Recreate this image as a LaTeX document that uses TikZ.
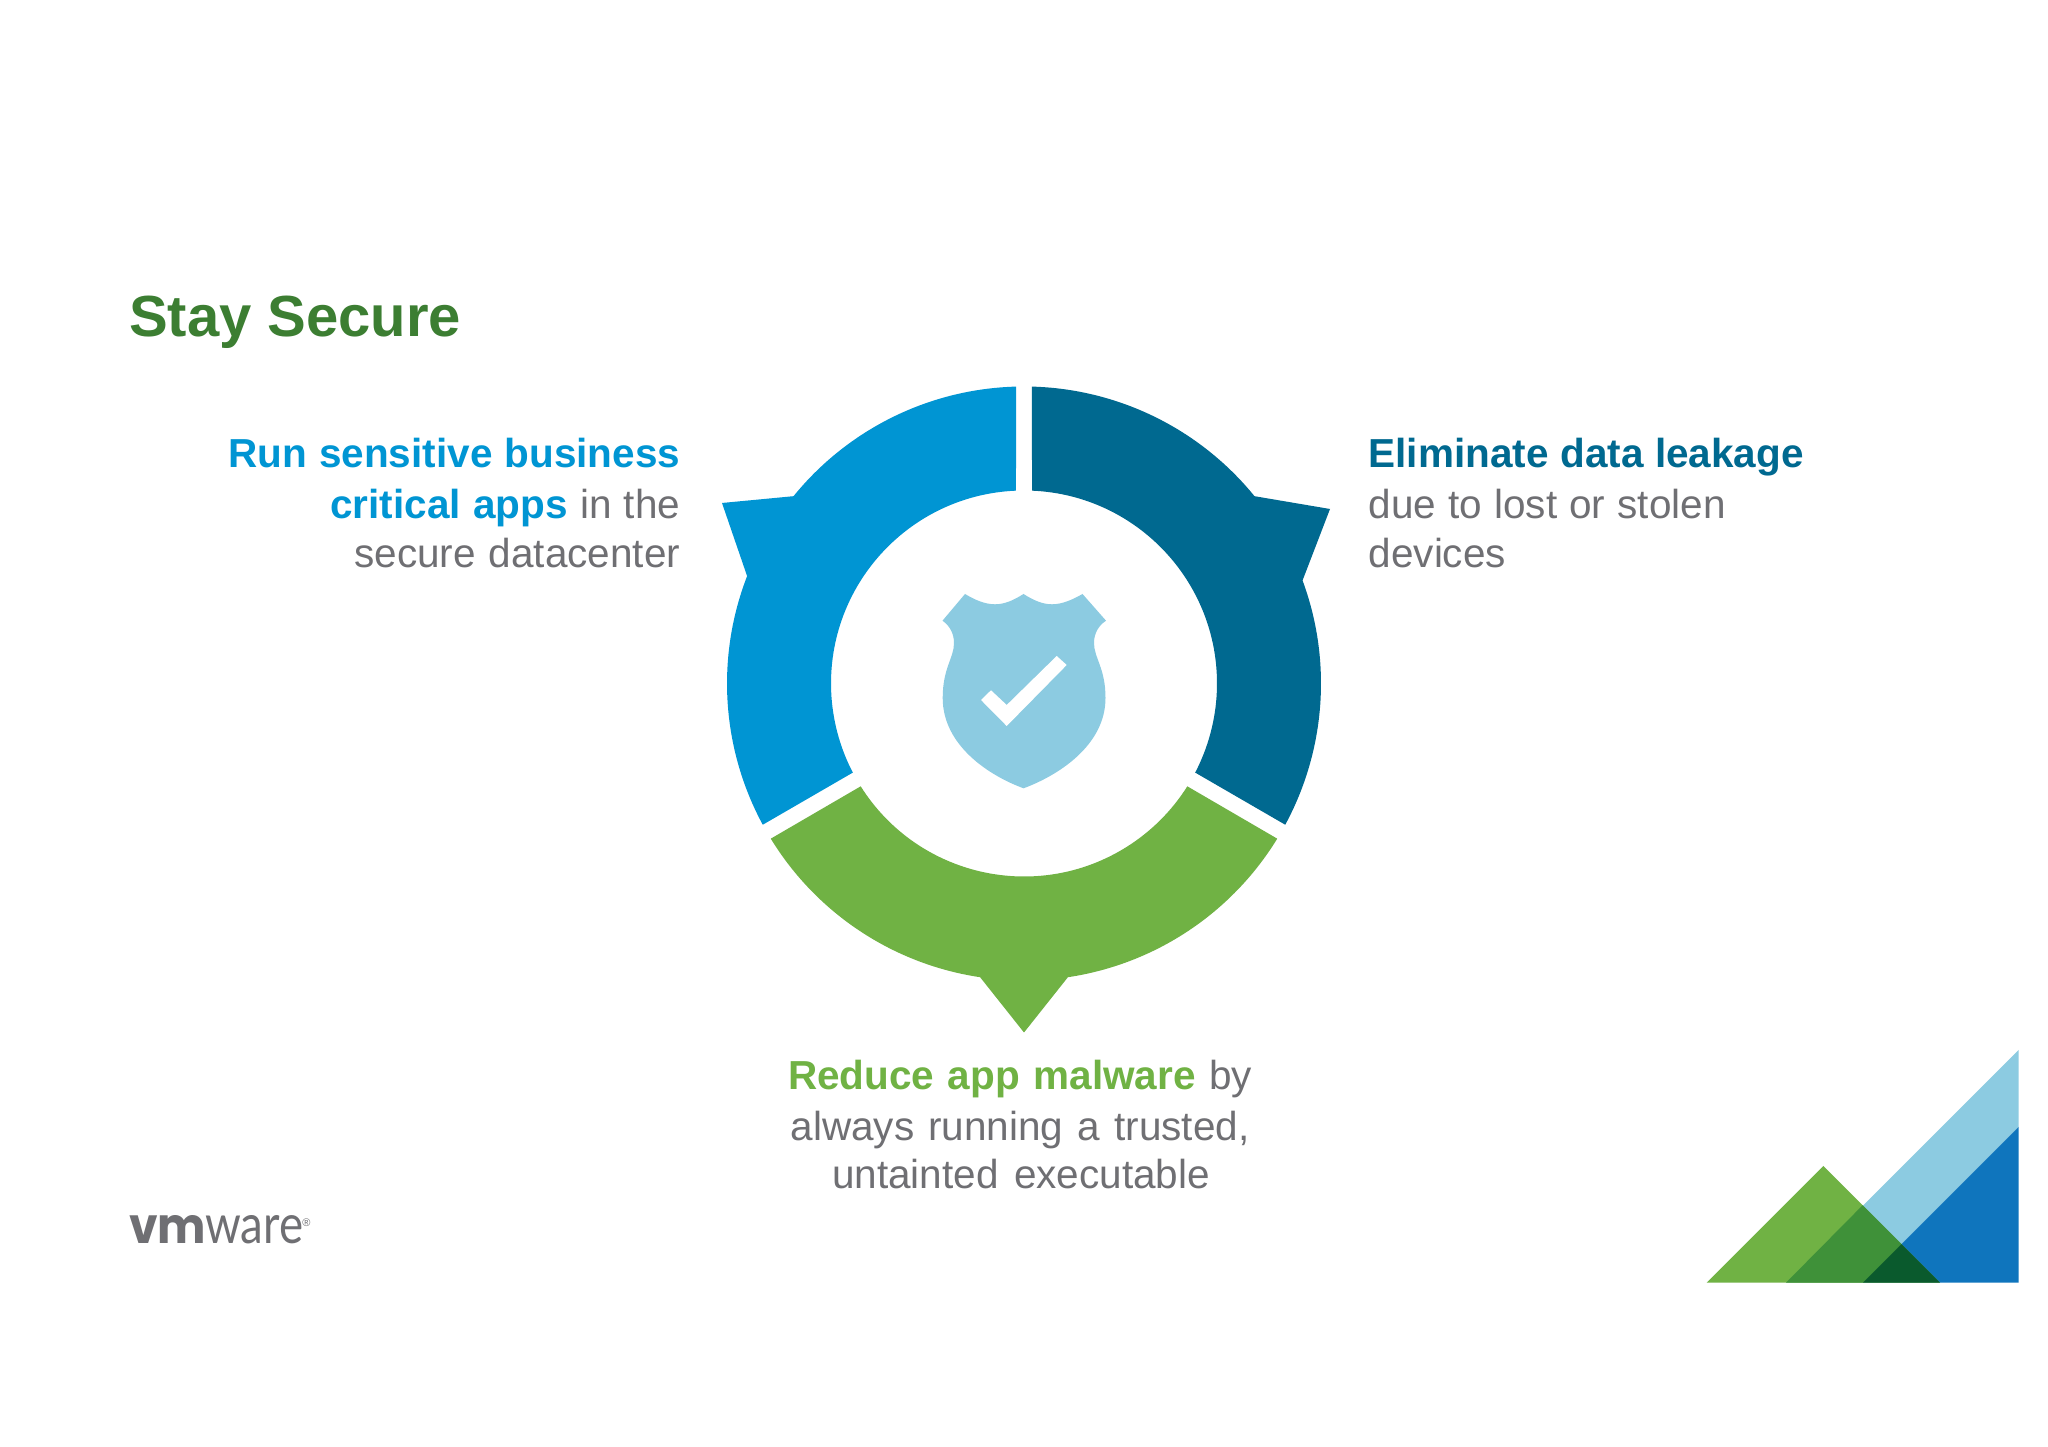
\documentclass[tikz,border=0pt]{standalone}
\usepackage{fontspec}
\usepackage{graphicx}
\setmainfont{Liberation Sans}
\newfontfamily\logofont{Poppins}
\newfontfamily\logolight{Lato}
\definecolor{segA}{HTML}{0095D3}
\definecolor{segB}{HTML}{006990}
\definecolor{segC}{HTML}{70B244}
\definecolor{titleC}{HTML}{3C7E32}
\definecolor{bodyC}{HTML}{6F6F73}
\definecolor{skyC}{HTML}{8CCBE1}
\definecolor{blueC}{HTML}{0F75BD}
\definecolor{midG}{HTML}{3F9139}
\definecolor{darkG}{HTML}{0A5A2D}
\tikzset{
  bodytext/.style={text=bodyC,font=\fontsize{40.5}{48}\selectfont,inner sep=0pt},
  lineE/.style={bodytext,anchor=base east},
  lineW/.style={bodytext,anchor=base west},
  lineC/.style={bodytext,anchor=base},
}
\newcommand{\fitline}[2]{\makebox[#1pt][s]{#2}}
\begin{document}
\begin{tikzpicture}[x=1pt,y=1pt]
\useasboundingbox (0,0) rectangle (2048,1447);
\fill[white] (0,0) rectangle (2048,1447);
% ring, centre (1024,763.5)
\begin{scope}[shift={(1024,763.5)}]
\fill[segA] (91.5:297) -- (92.4:193) arc[start angle=92.4,end angle=207.5,radius=193]
  -- (208.4:297) arc[start angle=208.4,end angle=158.8,radius=297]
  -- (-302,180.5) -- (140.9:297) arc[start angle=140.9,end angle=91.5,radius=297] -- cycle;
\fill[segB] (88.5:297) -- (87.6:193) arc[start angle=87.6,end angle=-27.5,radius=193]
  -- (-28.4:297) arc[start angle=-28.4,end angle=20.3,radius=297]
  -- (306,174.5) -- (39.1:297) arc[start angle=39.1,end angle=88.5,radius=297] -- cycle;
\fill[segC] (212.2:193) arc[start angle=212.2,end angle=327.8,radius=193]
  -- (-31.5:297) arc[start angle=-31.5,end angle=-81.5,radius=297]
  -- (0,-349) -- (261.5:297) arc[start angle=261.5,end angle=211.5,radius=297] -- cycle;
\end{scope}
% shield (coordinates measured with y downward)
\begin{scope}[yscale=-1,shift={(0,-1447)}]
\fill[skyC] (1023.5,594) .. controls (1014,600) and (1005,604.3) .. (995,604.3)
  .. controls (985,604.3) and (975,600) .. (965,594) -- (942.5,620.7)
  .. controls (950,626) and (954,634) .. (954,643)
  .. controls (954,658) and (942.7,668) .. (942.7,698)
  .. controls (942.7,746) and (990,776) .. (1023.5,788.3)
  .. controls (1057,776) and (1105.5,746) .. (1105.5,698)
  .. controls (1105.5,668) and (1094,658) .. (1094,643)
  .. controls (1094,634) and (1098,626) .. (1106,620.7)
  -- (1082.5,594) .. controls (1072,600) and (1062,604.3) .. (1052,604.3)
  .. controls (1042,604.3) and (1033,600) .. (1023.5,594) -- cycle;
\fill[white] (981,700) -- (991,690.3) -- (1006.7,705) -- (1056.7,656) -- (1066.7,665) -- (1006.7,726) -- cycle;
% corner mark
\fill[skyC] (2018.7,1050) -- (2018.7,1127) -- (1863,1282.7) -- (1786,1282.7) -- cycle;
\fill[blueC] (2018.7,1127) -- (2018.7,1282.7) -- (1863,1282.7) -- cycle;
\fill[segC] (1706.7,1282.7) -- (1823.3,1166) -- (1940,1282.7) -- cycle;
\fill[midG] (1786,1282.7) -- (1862.6,1205.3) -- (1901.5,1244.2) -- (1863,1282.7) -- cycle;
\fill[darkG] (1863,1282.7) -- (1901.5,1244.2) -- (1940,1282.7) -- cycle;
\end{scope}
% title
\node[anchor=base west,inner sep=0pt,text=titleC,font=\fontsize{58}{64}\selectfont\bfseries] (title) at (129,1110) {Stay Secure};
% left text
\node[lineE] (l1) at (680.5,979.5) {\fitline{452}{\textcolor{segA}{\bfseries Run sensitive business}}};
\node[lineE] (l2) at (680.5,928.5) {\fitline{350}{\textcolor{segA}{\bfseries critical apps} in the}};
\node[lineE] (l3) at (680.5,879.5) {\fitline{326}{secure datacenter}};
% right text
\node[lineW] (r1) at (1368.5,979.5) {\fitline{435}{\textcolor{segB}{\bfseries Eliminate data leakage}}};
\node[lineW] (r2) at (1368.5,928.5) {\fitline{357}{due to lost or stolen}};
\node[lineW] (r3) at (1368.5,879.5) {devices};
% bottom text
\node[lineC] (b1) at (1020,357.5) {\fitline{464}{\textcolor{segC}{\bfseries Reduce app malware} by}};
\node[lineC] (b2) at (1020,306.5) {\fitline{459}{always running a trusted,}};
\node[lineC] (b3) at (1021,258) {\fitline{378}{untainted executable}};
% logo
\node[anchor=base west,inner sep=0pt,text=bodyC] (logoA) at (129,203) {\resizebox{77pt}{28pt}{\logofont\bfseries vm}};
\node[anchor=base west,inner sep=0pt,text=bodyC] (logoB) at (205,203) {\resizebox{98pt}{28pt}{\logolight ware}};
\node[anchor=center,inner sep=0pt,text=bodyC,font=\fontsize{11}{11}\selectfont] (logoR) at (306.5,224) {®};
\end{tikzpicture}
\end{document}
